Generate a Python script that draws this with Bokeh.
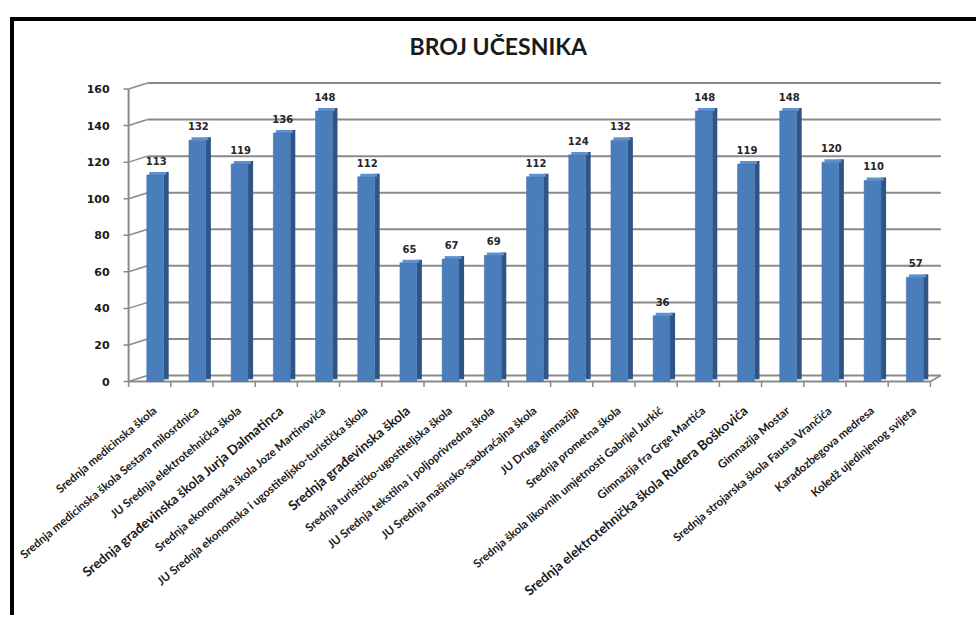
from bokeh.plotting import figure
from bokeh.models import ColumnDataSource, LabelSet, Label, Range1d
from bokeh.core.properties import value
from bokeh.transform import dodge
from bokeh.embed import file_html
from bokeh.resources import INLINE

schools = [
    "Srednja medicinska škola",
    "Srednja medicinska škola Sestara milosrdnica",
    "JU Srednja elektrotehnička škola",
    "Srednja građevinska škola Jurja Dalmatinca",
    "Srednja ekonomska škola Joze Martinovića",
    "JU Srednja ekonomska i ugostiteljsko-turistička škola",
    "Srednja građevinska škola",
    "Srednja turističko-ugostiteljska škola",
    "JU Srednja tekstilna i poljoprivredna škola",
    "JU Srednja mašinsko-saobraćajna škola",
    "JU Druga gimnazija",
    "Srednja prometna škola",
    "Srednja škola likovnih umjetnosti Gabrijel Jurkić",
    "Gimnazija fra Grge Martića",
    "Srednja elektrotehnička škola Ruđera Boškovića",
    "Gimnazija Mostar",
    "Srednja strojarska škola Fausta Vrančića",
    "Karađozbegova medresa",
    "Koledž ujedinjenog svijeta",
]
counts = [113, 132, 119, 136, 148, 112, 65, 67, 69, 112, 124, 132, 36, 148, 119, 148, 120, 110, 57]
emphasized = [False, False, False, True, False, False, True, False, False, False,
              False, False, False, False, True, False, False, False, False]
y_ticks = [0, 20, 40, 60, 80, 100, 120, 140, 160]
title_text = "BROJ UČESNIKA"

n = len(schools)
pos = list(range(n))

# ---- layout geometry (pixels) ----
FRAME_W, FRAME_H = 962, 594
SLOT_PX = 42.2            # width of one category slot
FIRST_SLOT_PX = 135.2     # centre of first slot from frame left
PX_PER_UNIT = 292.5 / 160.0
ZERO_FROM_TOP = 360.0     # pixel distance of value 0 below frame top
DEPTH_X, DEPTH_Y = 19 / SLOT_PX, 6 / PX_PER_UNIT   # back-wall offset (3D look)

x_start = -FIRST_SLOT_PX / SLOT_PX
y_top = ZERO_FROM_TOP / PX_PER_UNIT
y_bottom = -(FRAME_H - ZERO_FROM_TOP) / PX_PER_UNIT

src = ColumnDataSource(dict(
    pos=pos,
    count=counts,
    school=schools,
    count_lbl=[str(c) for c in counts],
    size=["13.5px" if e else "11.5px" for e in emphasized],
))

p = figure(
    frame_width=FRAME_W, frame_height=FRAME_H,
    x_range=Range1d(x_start, x_start + FRAME_W / SLOT_PX),
    y_range=Range1d(y_bottom, y_top),
    output_backend="svg", toolbar_location=None,
    min_border_left=0, min_border_right=0, min_border_top=0, min_border_bottom=0,
)
p.styles = {"border-left": "4px solid black", "border-top": "4px solid black",
            "margin-top": "17px", "margin-left": "10px"}
p.title.visible = False
p.xaxis.visible = False
p.yaxis.visible = False
p.xgrid.visible = False
p.ygrid.visible = False
p.outline_line_color = None
p.background_fill_color = "white"

GRID = "#8a8a8a"
left_edge = pos[0] - 0.5
right_edge = pos[-1] + 0.5

# ---- value axis, back-wall gridlines ----
grid_src = ColumnDataSource(dict(
    y=y_ticks,
    yb=[t + DEPTH_Y for t in y_ticks],
    lbl=[str(t) for t in y_ticks],
))
p.segment(x0=left_edge + DEPTH_X, x1=right_edge + DEPTH_X * 0.55, y0="yb", y1="yb",
          source=grid_src, line_color=GRID, line_width=2)
p.segment(x0=left_edge, x1=left_edge + DEPTH_X, y0="y", y1="yb",
          source=grid_src, line_color=GRID, line_width=1.5)
p.segment(x0=left_edge - 0.12, x1=left_edge, y0="y", y1="y",
          source=grid_src, line_color=GRID, line_width=1.5)
p.segment(x0=[left_edge], x1=[left_edge], y0=[y_ticks[0]], y1=[y_ticks[-1]],
          line_color=GRID, line_width=2)

# category axis (front edge of floor) with ticks at slot boundaries
p.segment(x0=[left_edge], x1=[right_edge], y0=[y_ticks[0]], y1=[y_ticks[0]],
          line_color=GRID, line_width=2)
p.segment(x0=[right_edge], x1=[right_edge + DEPTH_X * 0.55], y0=[y_ticks[0]],
          y1=[y_ticks[0] + DEPTH_Y], line_color=GRID, line_width=1.5)
bounds = [i - 0.5 for i in range(n + 1)]
p.segment(x0=bounds, x1=bounds, y0=[y_ticks[0]] * len(bounds),
          y1=[y_ticks[0] - 3.0] * len(bounds), line_color=GRID, line_width=1.5)

p.add_layout(LabelSet(x=left_edge, y="y", text="lbl", source=grid_src,
                      x_offset=-19, text_align=value("right"), text_baseline=value("middle"),
                      text_font=value("DejaVu Sans"), text_font_size=value("11px"),
                      text_font_style=value("bold"), text_color=value("#1a1a1a")))

# ---- 3D-like bars: side face, top cap, front face ----
p.vbar(x=dodge("pos", 0.39), top=dodge("count", 1.6), bottom=1.2,
       width=0.12, source=src, fill_color="#2f5486", line_color=None)
p.vbar(x=dodge("pos", 0.19), top=dodge("count", 1.6), bottom="count",
       width=0.40, source=src, fill_color="#5f92d2", line_color=None)
p.vbar(x=dodge("pos", 0.13), top="count", bottom=0,
       width=0.40, source=src, fill_color="#4a7ebb", line_color="#3f6fa8", line_width=0.5)

# value labels
p.add_layout(LabelSet(x="pos", y="count", text="count_lbl", source=src,
                      x_offset=6.5, y_offset=10, text_align=value("center"),
                      text_baseline=value("bottom"),
                      text_font=value("DejaVu Sans"), text_font_size=value("10px"),
                      text_font_style=value("bold"), text_color=value("#262626")))

# category labels
p.add_layout(LabelSet(x="pos", y=y_ticks[0], text="school", source=src,
                      x_offset=5, y_offset=-27, angle=40, angle_units="deg",
                      text_align=value("right"), text_baseline=value("middle"),
                      text_font=value("Lato"), text_font_size="size",
                      text_font_style=value("bold"), text_color=value("#1a1a1a")))

# title
p.add_layout(Label(x=395, y=FRAME_H - 24, x_units="screen", y_units="screen",
                   text=title_text, text_font="Lato", text_font_size="23px",
                   text_font_style="bold", text_color="#1a1a1a",
                   text_align="left", text_baseline="middle"))

open("out.html", "w").write(file_html(p, INLINE))
